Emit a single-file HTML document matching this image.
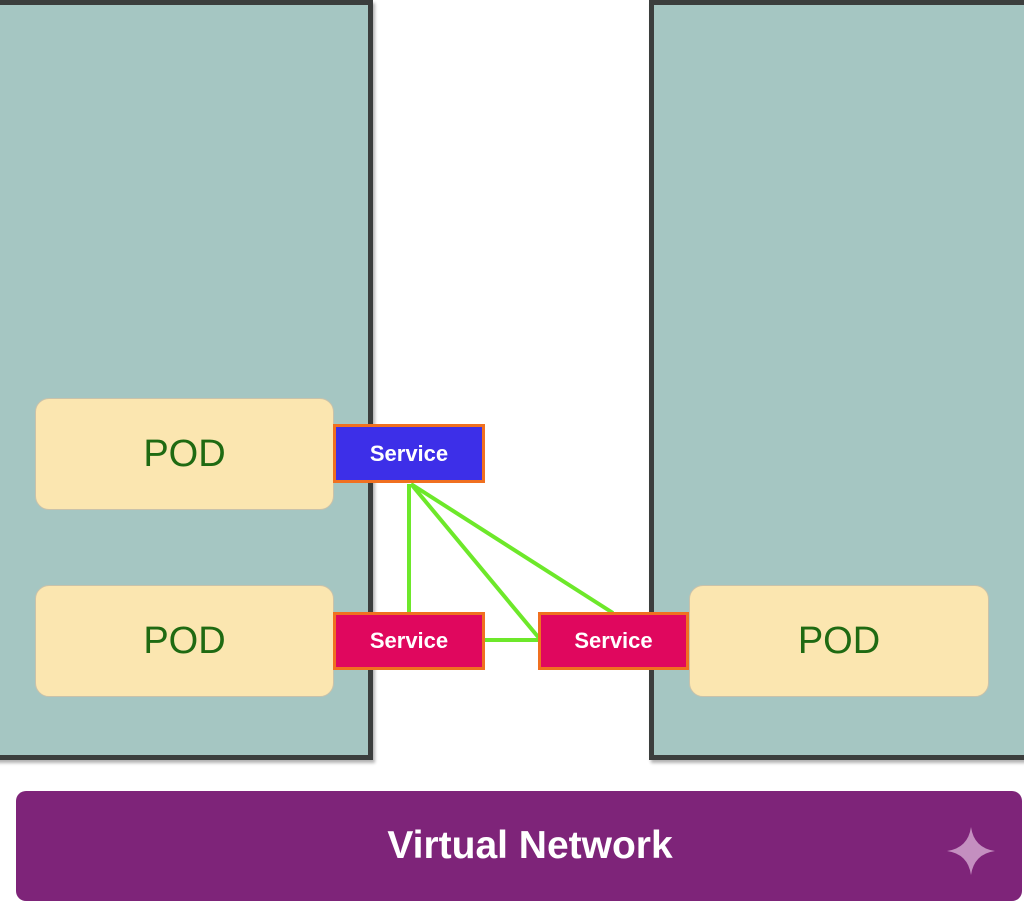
<!DOCTYPE html>
<html><head><style>
body{margin:0;width:1024px;height:904px;background:#fff;position:relative;overflow:hidden;font-family:"Liberation Sans",sans-serif}
.node{position:absolute;background:#a5c6c2;border:5px solid #3b3e3d;box-shadow:2px 3px 3px rgba(0,0,0,.3)}
.pod{position:absolute;background:#fbe6b0;border:1px solid #c9c2aa;border-radius:14px;color:#1f6a12;font-size:38px;display:flex;align-items:center;justify-content:center}
.svc{position:absolute;border:3px solid #f07020;color:#fff;font-weight:bold;font-size:22px;display:flex;align-items:center;justify-content:center;box-sizing:border-box}
</style></head><body>
<div class="node" style="left:-10px;top:0;width:373px;height:750px"></div>
<div class="node" style="left:649px;top:0;width:390px;height:750px"></div>
<div class="pod" style="left:35px;top:398px;width:297px;height:110px">POD</div>
<div class="pod" style="left:35px;top:585px;width:297px;height:110px">POD</div>
<div class="pod" style="left:689px;top:585px;width:298px;height:110px">POD</div>
<svg style="position:absolute;left:0;top:0" width="1024" height="904">
<g stroke="#6de82a" stroke-width="4" fill="none">
<line x1="409" y1="484" x2="409" y2="613"/>
<line x1="411" y1="484" x2="539" y2="638"/>
<line x1="411" y1="484" x2="613" y2="613"/>
<line x1="484" y1="640" x2="539" y2="640"/>
</g></svg>
<div class="svc" style="left:333px;top:424px;width:152px;height:59px;background:#3d2fe8">Service</div>
<div class="svc" style="left:333px;top:612px;width:152px;height:58px;background:#e0075e">Service</div>
<div class="svc" style="left:538px;top:612px;width:151px;height:58px;background:#e0075e">Service</div>
<div style="position:absolute;left:16px;top:791px;width:1006px;height:110px;background:#7e2479;border-radius:10px;color:#fff;font-weight:bold;font-size:39px;display:flex;align-items:center;justify-content:center;padding-left:22px;box-sizing:border-box">Virtual Network</div>
<svg style="position:absolute;left:947px;top:827px" width="48" height="48" viewBox="0 0 48 48"><path d="M24 0 Q27 21 48 24 Q27 27 24 48 Q21 27 0 24 Q21 21 24 0Z" fill="#c48fc0"/></svg>
</body></html>
